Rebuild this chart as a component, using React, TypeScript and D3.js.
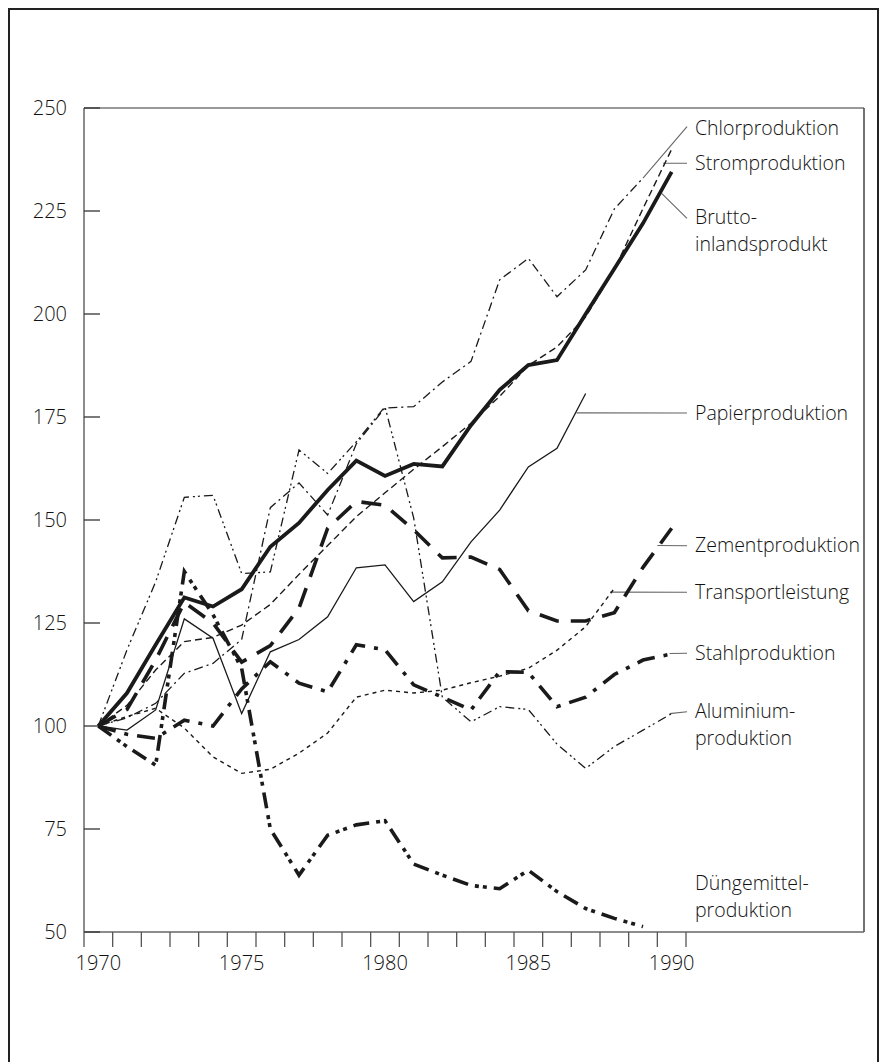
import React from "react";
import * as d3 from "d3";

const years = d3.range(1970, 1991);

const bip = [100, 108, 119.7, 131.2, 129, 133.2, 143.5, 149.3, 157.3, 164.4, 160.7, 163.6, 163, 173, 181.6, 187.6, 188.8, 200, 211, 222, 234.5];
const strom = [100, 105, 113.6, 120.5, 121.5, 124.5, 129.5, 136.8, 143.8, 150.8, 156.6, 162.3, 167.8, 173.5, 180, 187.5, 192, 199.3, 210.8, 225.6, 240];
const chlor = [100, 102, 105.5, 112.8, 115.2, 121, 153, 159, 151.2, 168.5, 177.2, 177.5, 183.5, 188.5, 208.3, 213.5, 204.2, 210.7, 225.5, 233];
const aluminium = [100, 118.5, 135, 155.5, 156, 137, 137.4, 167, 161.3, 169, 177.5, 150.5, 107, 101, 104.7, 104, 95.6, 89.7, 95, 99, 103];
const papier = [100, 99, 103.9, 126, 121.3, 103, 118, 121, 126.5, 138.4, 139.1, 130.2, 135, 144.7, 152.4, 162.9, 167.4, 180.7];
const transport = [100, 102.3, 104.3, 99.5, 92.5, 88.5, 89.5, 93.4, 98.3, 107, 108.7, 108, 108.7, 110.5, 112.1, 114, 118.4, 124.1, 133.4];
const zement = [100, 104, 116, 130, 125, 115.5, 119.5, 128.6, 148, 154.5, 153.6, 147.6, 140.8, 141, 138, 128, 125.5, 125.5, 127.5, 138.5, 148];
const stahl = [100, 98, 97, 101.4, 100, 109, 115.6, 110.4, 108.3, 119.7, 118.5, 110, 107, 103.9, 113.2, 113, 104.7, 107, 112.5, 116, 117.5];
const duenger = [100, 95, 90.5, 137.5, 127, 114, 75, 63.8, 73.5, 76, 77, 66.5, 63.8, 61.3, 60.5, 65, 59.8, 55.7, 53.3, 51.3];

const yTicks = [50, 75, 100, 125, 150, 175, 200, 225, 250];
const xTickYears = d3.range(1970, 1992);
const xLabelYears = [1970, 1975, 1980, 1985, 1990];

type Series = {
  name: string;
  values: number[];
  width: number;
  dash: string | null;
  label: string[];
  labelBaseline: number[];
  anchor: [number, number] | null;
  leaderEnd: [number, number] | null;
};

const series: Series[] = [
  { name: "transport", values: transport, width: 1.4, dash: "4,4", label: ["Transportleistung"], labelBaseline: [599], anchor: [1987.85, 132.5], leaderEnd: [687, 592.3] },
  { name: "papier", values: papier, width: 1.3, dash: null, label: ["Papierproduktion"], labelBaseline: [420], anchor: [1986.68, 176], leaderEnd: [687, 413] },
  { name: "strom", values: strom, width: 1.4, dash: "7,4", label: ["Stromproduktion"], labelBaseline: [170], anchor: [1989.7, 236.6], leaderEnd: [687, 163.3] },
  { name: "chlor", values: chlor, width: 1.3, dash: "9,4,2,4", label: ["Chlorproduktion"], labelBaseline: [135], anchor: [1989, 233], leaderEnd: [687, 126.7] },
  { name: "aluminium", values: aluminium, width: 1.3, dash: "9,4,2,3,2,4", label: ["Aluminium-", "produktion"], labelBaseline: [718, 745], anchor: [1989.93, 103], leaderEnd: [687, 711.7] },
  { name: "zement", values: zement, width: 3.6, dash: "20,12", label: ["Zementproduktion"], labelBaseline: [552], anchor: [1989.5, 143.8], leaderEnd: [687, 545.7] },
  { name: "stahl", values: stahl, width: 3.6, dash: "18,9,4,9", label: ["Stahlproduktion"], labelBaseline: [660], anchor: [1989.93, 117.6], leaderEnd: [687, 653.3] },
  { name: "duenger", values: duenger, width: 3.6, dash: "16,7,4,4,4,7", label: ["Düngemittel-", "produktion"], labelBaseline: [890, 917], anchor: null, leaderEnd: null },
  { name: "bip", values: bip, width: 3.8, dash: null, label: ["Brutto-", "inlandsprodukt"], labelBaseline: [224, 251], anchor: [1989.65, 229.3], leaderEnd: [687, 218.3] },
];

const W = 879;
const H = 1062;
const left = 84, right = 864, top = 108, bottom = 932;
const dataRight = 686;

const x = d3.scaleLinear().domain([1970, 1991]).range([left, dataRight]);
const y = d3.scaleLinear().domain([50, 250]).range([bottom, top]);

const FONT = "'Open Sans', 'DejaVu Sans', sans-serif";
const FS = 20;
const LFS = 19.5;

export default function App() {
  const line = d3
    .line<number>()
    .x((_, i) => x(years[i] + 0.5))
    .y((d) => y(d));

  return (
    <svg
      width={W}
      height={H}
      style={{ position: "absolute", left: 0, top: 0, background: "#fff" }}
      fontFamily={FONT}
      fontWeight={300}
    >
      <rect x={0} y={0} width={W} height={H} fill="#fff" />
      <path d={`M9,${H + 10} L9,9 L878,9 L878,${H + 10}`} fill="none" stroke="#222" strokeWidth={2} />

      <line x1={left} y1={top} x2={right} y2={top} stroke="#777" strokeWidth={1.5} />
      <line x1={right} y1={top} x2={right} y2={bottom} stroke="#444" strokeWidth={1.5} />
      <line x1={left} y1={top} x2={left} y2={bottom} stroke="#666" strokeWidth={1.5} />
      <line x1={left} y1={bottom} x2={right} y2={bottom} stroke="#666" strokeWidth={1.5} />

      {yTicks.map((t) => (
        <g key={t}>
          <line x1={left} x2={left + 16} y1={y(t)} y2={y(t)} stroke="#333" strokeWidth={1.3} />
          <text x={67} y={y(t)} dy="0.36em" textAnchor="end" fontSize={FS} fill="#111">
            {t}
          </text>
        </g>
      ))}

      {xTickYears.map((t) => (
        <line key={t} x1={x(t)} x2={x(t)} y1={bottom} y2={bottom + 15} stroke="#555" strokeWidth={1.3} />
      ))}
      {xLabelYears.map((t) => (
        <text key={t} x={x(t + 0.5)} y={970} textAnchor="middle" fontSize={FS} fill="#111">
          {t}
        </text>
      ))}

      {series
        .filter((s) => s.anchor && s.leaderEnd)
        .map((s) => (
          <line
            key={"l" + s.name}
            x1={x(s.anchor![0] + 0.5)}
            y1={y(s.anchor![1])}
            x2={s.leaderEnd![0]}
            y2={s.leaderEnd![1]}
            stroke="#666"
            strokeWidth={1.1}
          />
        ))}

      {series.map((s) => (
        <path
          key={s.name}
          d={line(s.values) || ""}
          fill="none"
          stroke="#1a1a1a"
          strokeWidth={s.width}
          strokeDasharray={s.dash || undefined}
          strokeLinejoin="miter"
          strokeLinecap="butt"
        />
      ))}

      {series.map((s) =>
        s.label.map((txt, i) => (
          <text key={s.name + i} x={695} y={s.labelBaseline[i]} fontSize={LFS} fill="#111">
            {txt}
          </text>
        ))
      )}
    </svg>
  );
}
